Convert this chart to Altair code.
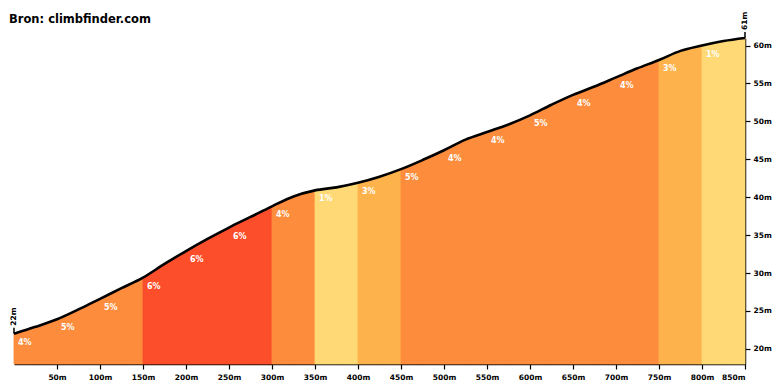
import altair as alt
import pandas as pd

# Profile (distance in m, elevation in m)
distance = list(range(0, 851, 25))
elevation = [22.0, 22.9, 23.9, 25.2, 26.6, 28.0, 29.4, 31.2, 32.9, 34.5, 36.0, 37.4,
             38.8, 40.1, 40.9, 41.3, 41.9, 42.7, 43.7, 44.9, 46.2, 47.6, 48.6, 49.6,
             50.8, 52.2, 53.5, 54.6, 55.8, 57.0, 58.1, 59.3, 60.0, 60.6, 61.0]

# 50 m segments and their gradients (%)
seg_start = list(range(0, 850, 50))
seg_grade = [4, 5, 5, 6, 6, 6, 4, 1, 3, 5, 4, 4, 5, 4, 4, 3, 1]

grade_domain = ["1", "3", "4", "5", "6"]
grade_colors = ["#fed976", "#feb24c", "#fd8d3c", "#fd8d3c", "#fc4e2a"]

x_ticks = list(range(50, 851, 50))
y_ticks = list(range(20, 61, 5))
end_labels = ["22m", "61m"]

elev_at = dict(zip(distance, elevation))

area_rows = []
for i, (s, g) in enumerate(zip(seg_start, seg_grade)):
    for d in distance:
        if s <= d <= s + 50:
            area_rows.append({"d": d, "e": elev_at[d], "seg": i, "g": str(g)})
area_df = pd.DataFrame(area_rows)
line_df = pd.DataFrame({"d": distance, "e": elevation})
lab_df = pd.DataFrame({"d": seg_start,
                       "e": [elev_at[s] for s in seg_start],
                       "t": [f"{g}%" for g in seg_grade]})
end_df = pd.DataFrame({"d": [distance[0], distance[-1]],
                       "e": [elevation[0], elevation[-1]],
                       "t": end_labels})

FONT = "DejaVu Sans"
xs = alt.Scale(domain=[0, 850], nice=False, zero=False)
ys = alt.Scale(domain=[18, 61], nice=False, zero=False)

x_enc = alt.X("d:Q", scale=xs, axis=alt.Axis(
    values=x_ticks, labelExpr="datum.value + 'm'", title=None, grid=False,
    domainColor="black", domainWidth=1.5, tickColor="black", tickSize=5,
    tickWidth=1.2, labelFont=FONT, labelFontWeight="bold", labelFontSize=7.5,
    labelColor="black", labelPadding=4))
y_enc = alt.Y("e:Q", scale=ys, axis=alt.Axis(
    orient="right", values=y_ticks, labelExpr="datum.value + 'm'", title=None,
    grid=False, domainColor="black", domainWidth=1.5, tickColor="black",
    tickSize=5, tickWidth=1.2, labelFont=FONT, labelFontWeight="bold",
    labelFontSize=7.5, labelColor="black", labelPadding=3))

col_scale = alt.Scale(domain=grade_domain, range=grade_colors)
area = alt.Chart(area_df).mark_area(interpolate="monotone", opacity=1,
                                    strokeWidth=0.8).encode(
    x=x_enc, y=y_enc, y2=alt.datum(18), detail="seg:N",
    color=alt.Color("g:N", scale=col_scale, legend=None),
    stroke=alt.Stroke("g:N", scale=col_scale, legend=None))

line = alt.Chart(line_df).mark_line(interpolate="monotone", color="black",
                                    strokeWidth=2.6).encode(x=x_enc, y=y_enc)

labels = alt.Chart(lab_df).mark_text(
    align="left", baseline="middle", dx=4, dy=9, color="white",
    font=FONT, fontWeight="bold", fontSize=8).encode(x=x_enc, y=y_enc, text="t:N")

end_ticks = alt.Chart(end_df).mark_rule(color="black", strokeWidth=1.5,
                                        y2Offset=-6).encode(
    x=x_enc, y=y_enc, y2=alt.Y2("e:Q"))
end_text = alt.Chart(end_df).mark_text(
    align="left", baseline="middle", angle=270, dx=8, color="black",
    font=FONT, fontWeight="bold", fontSize=7.5).encode(x=x_enc, y=y_enc, text="t:N")

chart = alt.layer(area, line, labels, end_ticks, end_text).properties(
    width=731, height=326,
    autosize=alt.AutoSizeParams(type="none"),
    padding={"left": 6, "top": 30, "right": 27, "bottom": 18},
    title=alt.TitleParams("Bron: climbfinder.com", anchor="start", frame="group",
                          font=FONT, fontSize=11.5, fontWeight="bold",
                          color="black", offset=-14, dx=-5),
).configure_view(stroke=None)

chart.save("out.html", embed_options={"renderer": "svg", "actions": False})
